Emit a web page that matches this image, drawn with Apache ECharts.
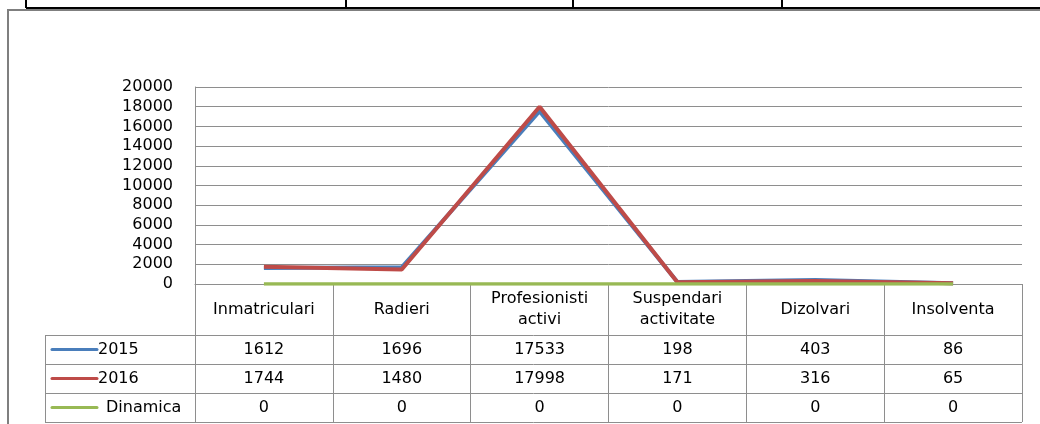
<!DOCTYPE html>
<html><head><meta charset="utf-8">
<script src="https://cdn.jsdelivr.net/npm/echarts@6/dist/echarts.min.js"></script>
<style>html,body{margin:0;padding:0;background:#fff}#c{width:1040px;height:424px}</style>
</head><body><div id="c"></div>
<script>
const categories = ['Inmatriculari', 'Radieri', 'Profesionisti\nactivi', 'Suspendari\nactivitate', 'Dizolvari', 'Insolventa'];
const seriesNames = ['2015', '2016', 'Dinamica'];
const s2015 = [1612, 1696, 17533, 198, 403, 86];
const s2016 = [1744, 1480, 17998, 171, 316, 65];
const dinamica = [0, 0, 0, 0, 0, 0];
const yTicks = { min: 0, max: 20000, interval: 2000 };

const FONT = 'DejaVu Sans';
const FS = 16;
const GL = 195, GR = 1022, GT = 87, G0 = 284;
const ROWS = [335, 364, 393, 422];
const TL = 45;
const gridColor = '#8e8e8e';
const colors = ['#4a7ebb', '#be4b48', '#98b954'];

const chart = echarts.init(document.getElementById('c'), null, { renderer: 'canvas' });

function rowAxis(vals, center) {
  return {
    type: 'category', data: categories, position: 'bottom', gridIndex: 0,
    axisLine: { show: false }, axisTick: { show: false },
    axisLabel: {
      interval: 0, margin: center - G0, verticalAlign: 'middle',
      fontFamily: FONT, fontSize: FS, color: '#000',
      formatter: (v, i) => String(vals[i])
    }
  };
}

const gfx = [];
ROWS.forEach(y => gfx.push({ type: 'line', shape: { x1: TL, y1: y + 0.5, x2: GR, y2: y + 0.5 }, style: { stroke: gridColor, lineWidth: 1 }, silent: true }));
gfx.push({ type: 'line', shape: { x1: TL + 0.5, y1: ROWS[0], x2: TL + 0.5, y2: ROWS[3] }, style: { stroke: gridColor, lineWidth: 1 }, silent: true });
gfx.push({ type: 'rect', shape: { x: 8, y: 10, width: 1060, height: 440 }, style: { fill: null, stroke: '#7f7f7f', lineWidth: 2 }, silent: true });
gfx.push({ type: 'line', shape: { x1: 26, y1: 8, x2: 1040, y2: 8 }, style: { stroke: '#000', lineWidth: 2 }, silent: true });
[26, 346, 573, 782].forEach(x => gfx.push({ type: 'line', shape: { x1: x, y1: 0, x2: x, y2: 8 }, style: { stroke: '#000', lineWidth: 2 }, silent: true }));
seriesNames.forEach((n, i) => {
  const cy = (ROWS[i] + ROWS[i + 1]) / 2;
  gfx.push({ type: 'line', shape: { x1: 52, y1: cy, x2: 97, y2: cy }, style: { stroke: colors[i], lineWidth: 3, lineCap: 'round' }, silent: true });
  gfx.push({ type: 'text', x: n === 'Dinamica' ? 106 : 98, y: cy, style: { text: n, font: FS + 'px "' + FONT + '"', fill: '#000', textVerticalAlign: 'middle', verticalAlign: 'middle' }, silent: true });
});

chart.setOption({
  animation: false,
  backgroundColor: '#fff',
  grid: { left: GL, right: 1040 - GR, top: GT, bottom: 424 - G0, containLabel: false },
  xAxis: [
    {
      type: 'category', data: categories, boundaryGap: true, position: 'bottom',
      axisLine: { show: true, lineStyle: { color: gridColor, width: 1 } },
      axisTick: { show: true, interval: 0, length: ROWS[3] - G0, lineStyle: { color: gridColor, width: 1 } },
      axisLabel: { interval: 0, margin: (ROWS[0] - G0) / 2, verticalAlign: 'middle', fontFamily: FONT, fontSize: FS, lineHeight: 21, color: '#000' }
    },
    rowAxis(s2015, (ROWS[0] + ROWS[1]) / 2),
    rowAxis(s2016, (ROWS[1] + ROWS[2]) / 2),
    rowAxis(dinamica, (ROWS[2] + ROWS[3]) / 2)
  ],
  yAxis: {
    type: 'value', min: yTicks.min, max: yTicks.max, interval: yTicks.interval,
    axisLine: { show: true, lineStyle: { color: gridColor, width: 1 } },
    axisTick: { show: false },
    splitLine: { show: true, lineStyle: { color: gridColor, width: 1 } },
    axisLabel: { margin: 22, fontFamily: FONT, fontSize: FS, color: '#000', formatter: v => String(v) }
  },
  series: [
    { name: seriesNames[0], type: 'line', data: s2015, symbol: 'none', color: colors[0], lineStyle: { width: 4, color: colors[0] } },
    { name: seriesNames[1], type: 'line', data: s2016, symbol: 'none', color: colors[1], lineStyle: { width: 4, color: colors[1] } },
    { name: seriesNames[2], type: 'line', data: dinamica, symbol: 'none', color: colors[2], lineStyle: { width: 3.5, color: colors[2] } }
  ],
  graphic: gfx
});
</script></body></html>
